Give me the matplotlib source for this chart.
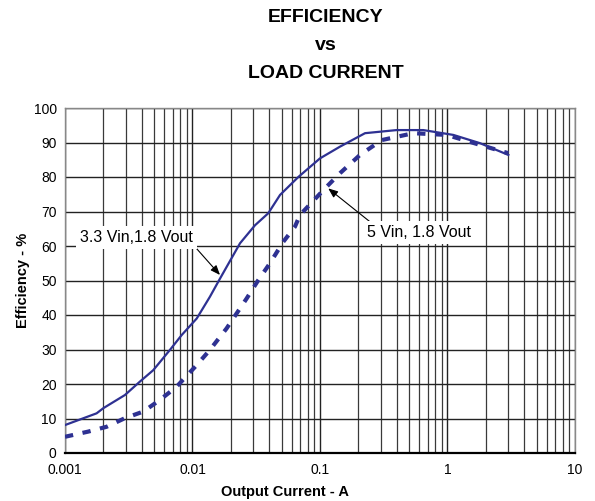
import numpy as np
import matplotlib
matplotlib.use("Agg")
import matplotlib.pyplot as plt
from matplotlib.ticker import FixedLocator, NullFormatter

plt.rcParams['font.family'] = ['Liberation Sans', 'DejaVu Sans']

# Efficiency vs load current, two input-voltage conditions
i_33 = [0.001, 0.00177, 0.002, 0.00295, 0.00387, 0.00492, 0.00666, 0.00823,
        0.0108, 0.0137, 0.0164, 0.0236, 0.0309, 0.0393, 0.0486, 0.0676,
        0.1, 0.1435, 0.2255, 0.399, 0.646, 1.11, 1.8, 3.0]
eff_33 = [8.1, 11.5, 13.0, 16.8, 20.7, 24.0, 29.9, 34.2,
          39.0, 45.3, 50.5, 60.8, 66.0, 69.5, 74.8, 80.0,
          85.4, 88.8, 92.7, 93.6, 93.6, 92.2, 89.8, 86.4]

i_5 = [0.001, 0.00152, 0.00212, 0.00295, 0.00411, 0.00556, 0.0075, 0.0108,
       0.0137, 0.0185, 0.0266, 0.0328, 0.0405, 0.0515, 0.0636, 0.0697,
       0.1095, 0.1435, 0.206, 0.305, 0.54, 0.985, 1.8, 3.0]
eff_5 = [4.7, 6.2, 7.6, 10.1, 12.0, 15.4, 19.2, 25.5,
         29.9, 36.1, 44.8, 50.1, 55.0, 61.2, 65.6, 69.0,
         76.7, 81.1, 86.4, 90.7, 92.7, 92.2, 89.3, 86.9]

x_ticks = [0.001, 0.01, 0.1, 1, 10]
x_tick_labels = ["0.001", "0.01", "0.1", "1", "10"]
y_ticks = list(range(0, 101, 10))

label_33 = "3.3 Vin,1.8 Vout"
label_5 = "5 Vin, 1.8 Vout"

blue = "#2e3192"

fig = plt.figure(figsize=(5.95, 5.01), dpi=100)
ax = fig.add_axes([65 / 595, 1 - 453 / 501, 510 / 595, 345 / 501])

ax.set_xscale("log")
ax.set_xlim(0.001, 10)
ax.set_ylim(0, 100)

# grid: decades and intermediate lines
minor = [m * 10.0 ** e for e in range(-3, 1) for m in range(2, 10)]
ax.xaxis.set_major_locator(FixedLocator(x_ticks))
ax.xaxis.set_minor_locator(FixedLocator(minor))
ax.xaxis.set_minor_formatter(NullFormatter())
ax.set_xticks(x_ticks)
ax.set_xticklabels(x_tick_labels)
ax.set_yticks(y_ticks)
ax.grid(True, which="major", axis="both", color="#222222", linewidth=1.0)
ax.grid(True, which="minor", axis="x", color="#3a3a3a", linewidth=0.9)
ax.tick_params(which="both", length=0, labelsize=10, colors="black")
ax.tick_params(axis="x", pad=7)
ax.tick_params(axis="y", pad=6)

for side in ("top", "right", "left"):
    ax.spines[side].set_color("#888888")
    ax.spines[side].set_linewidth(1.0)
ax.spines["bottom"].set_color("black")
ax.spines["bottom"].set_linewidth(1.6)

ax.plot(i_33, eff_33, color=blue, linewidth=1.6, zorder=3)
ax.plot(i_5, eff_5, color=blue, linewidth=3.0, linestyle=(0, (2.0, 2.3)),
        dash_capstyle="butt", zorder=3)

box = dict(boxstyle="square,pad=0.25", facecolor="white", edgecolor="none")
ax.annotate(label_33, xy=(0.01643, 51.6), xytext=(0.00364, 62.6),
            fontsize=11.5, ha="center", va="center", bbox=box,
            arrowprops=dict(arrowstyle="-|>,head_length=0.5,head_width=0.2",
                            color="black", linewidth=0.8, shrinkA=0, shrinkB=0,
                            relpos=(1.0, 0.0)),
            zorder=4)
ax.annotate(label_5, xy=(0.116, 76.7), xytext=(0.60, 63.8),
            fontsize=11.5, ha="center", va="center", bbox=box,
            arrowprops=dict(arrowstyle="-|>,head_length=0.5,head_width=0.2",
                            color="black", linewidth=0.8, shrinkA=0, shrinkB=0,
                            relpos=(0.07, 1.0)),
            zorder=4)

fig.text(285 / 595, 1 - 492 / 501, "Output Current - A", ha="center", va="center",
         fontsize=10.5, fontweight="bold")
fig.text(23 / 595, 1 - 280 / 501, "Efficiency - %", ha="center", va="center",
         rotation=90, fontsize=10.5, fontweight="bold")

for txt, ypx in (("EFFICIENCY", 18), ("vs", 45), ("LOAD CURRENT", 73)):
    fig.text(326 / 595, 1 - ypx / 501, txt, ha="center", va="center",
             fontsize=14, fontweight="bold")

fig.savefig("out.png", dpi=100)
